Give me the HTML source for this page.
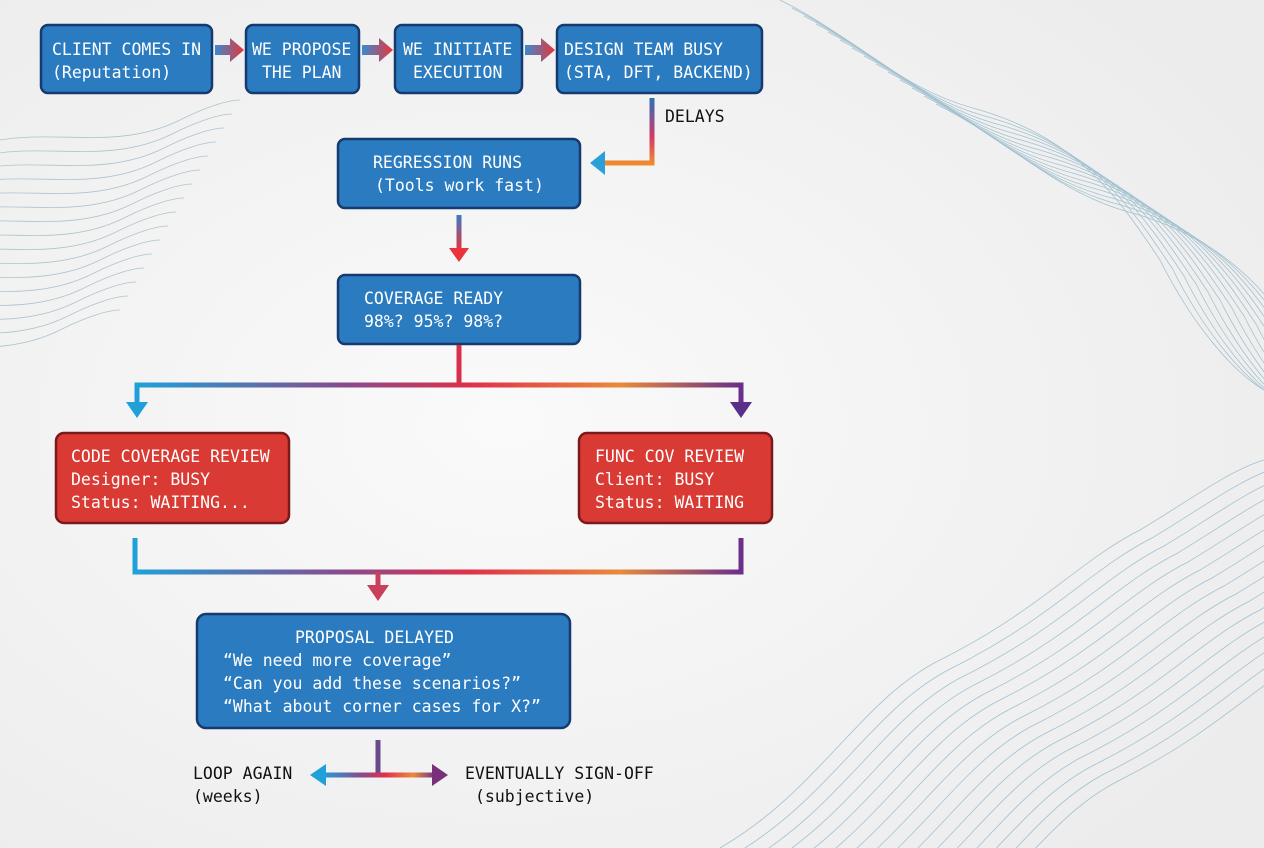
<!DOCTYPE html>
<html><head><meta charset="utf-8"><style>
html,body{margin:0;padding:0;background:#efefef;width:1264px;height:848px;overflow:hidden}
svg{display:block}
text{font-family:"DejaVu Sans Mono","Liberation Mono",monospace;font-size:16.5px;fill:#fff}
.k{fill:#111}
</style></head><body>
<svg width="1264" height="848" viewBox="0 0 1264 848" xmlns="http://www.w3.org/2000/svg">
<defs>
<radialGradient id="bg" cx="0.4" cy="0.5" r="0.7"><stop offset="0" stop-color="#fafafa"/><stop offset="1" stop-color="#ececec"/></radialGradient>
<linearGradient id="h" x1="0" x2="1"><stop offset="0" stop-color="#1fa0d8"/><stop offset="0.35" stop-color="#8a4a8c"/><stop offset="0.55" stop-color="#e0304a"/><stop offset="0.8" stop-color="#e98a3a"/><stop offset="1" stop-color="#6a2f8a"/></linearGradient>
<linearGradient id="v" x1="0" y1="0" x2="0" y2="1"><stop offset="0" stop-color="#2a70b8"/><stop offset="0.6" stop-color="#d23a6a"/><stop offset="1" stop-color="#f08a30"/></linearGradient>
<linearGradient id="ar" x1="0" x2="1"><stop offset="0" stop-color="#3a8ad0"/><stop offset="1" stop-color="#e8343a"/></linearGradient>
<linearGradient id="dn" x1="0" y1="0" x2="0" y2="1"><stop offset="0" stop-color="#3a7ac8"/><stop offset="1" stop-color="#e8343a"/></linearGradient>
<path id="w1" d="M780,0 C860,40 900,90 980,110 C1080,140 1120,200 1160,260 C1190,320 1230,370 1264,390" fill="none" stroke="#8fb6c8" stroke-width="0.8"/>
<path id="w2" d="M720,848 C820,790 860,700 940,660 C1040,610 1080,560 1140,530 C1190,500 1230,470 1264,460" fill="none" stroke="#8fb6c8" stroke-width="0.8"/>
<path id="w3" d="M0,140 C60,130 120,150 180,120 C210,105 230,100 240,100" fill="none" stroke="#9ab8c6" stroke-width="0.8"/>
</defs>
<rect width="1264" height="848" fill="url(#bg)"/>
<g opacity="0.8">
<use href="#w1"/><use href="#w1" transform="translate(12,8)"/><use href="#w1" transform="translate(24,16)"/><use href="#w1" transform="translate(36,24)"/><use href="#w1" transform="translate(48,32)"/><use href="#w1" transform="translate(60,40)"/><use href="#w1" transform="translate(72,48)"/><use href="#w1" transform="translate(84,56)"/><use href="#w1" transform="translate(96,64)"/><use href="#w1" transform="translate(108,72)"/><use href="#w1" transform="translate(120,80)"/><use href="#w1" transform="translate(132,88)"/><use href="#w1" transform="translate(144,96)"/><use href="#w1" transform="translate(156,104)"/>
<use href="#w2"/><use href="#w2" transform="translate(12,8)"/><use href="#w2" transform="translate(24,16)"/><use href="#w2" transform="translate(36,24)"/><use href="#w2" transform="translate(48,32)"/><use href="#w2" transform="translate(60,40)"/><use href="#w2" transform="translate(72,48)"/><use href="#w2" transform="translate(84,56)"/><use href="#w2" transform="translate(96,64)"/><use href="#w2" transform="translate(108,72)"/><use href="#w2" transform="translate(120,80)"/><use href="#w2" transform="translate(132,88)"/><use href="#w2" transform="translate(144,96)"/><use href="#w2" transform="translate(156,104)"/><use href="#w2" transform="translate(168,112)"/><use href="#w2" transform="translate(180,120)"/>
<use href="#w3"/><use href="#w3" transform="translate(-8,14)"/><use href="#w3" transform="translate(-16,28)"/><use href="#w3" transform="translate(-24,42)"/><use href="#w3" transform="translate(-32,56)"/><use href="#w3" transform="translate(-40,70)"/><use href="#w3" transform="translate(-48,84)"/><use href="#w3" transform="translate(-56,98)"/><use href="#w3" transform="translate(-64,112)"/><use href="#w3" transform="translate(-72,126)"/><use href="#w3" transform="translate(-80,140)"/><use href="#w3" transform="translate(-88,154)"/><use href="#w3" transform="translate(-96,168)"/><use href="#w3" transform="translate(-104,182)"/><use href="#w3" transform="translate(-112,196)"/><use href="#w3" transform="translate(-120,210)"/>
</g>

<g stroke="#163a6e" stroke-width="2.5" fill="#2a7bc0">
<rect x="41" y="25" width="171" height="68" rx="7"/>
<rect x="246" y="25" width="113" height="68" rx="7"/>
<rect x="395" y="25" width="127" height="68" rx="7"/>
<rect x="557" y="25" width="205" height="68" rx="7"/>
<rect x="338" y="139" width="242" height="69" rx="7"/>
<rect x="338" y="275" width="242" height="69" rx="7"/>
<rect x="197" y="614" width="373" height="114" rx="9"/>
</g>
<g stroke="#7a1a1a" stroke-width="2.5" fill="#d93a34">
<rect x="56" y="433" width="233" height="90" rx="8"/>
<rect x="579" y="433" width="193" height="90" rx="8"/>
</g>

<g fill="url(#ar)">
<path d="M215,45 h15 v-7 l14,12 l-14,12 v-7 h-15z"/>
<path d="M362,45 h17 v-7 l14,12 l-14,12 v-7 h-17z"/>
<path d="M525,45 h16 v-7 l14,12 l-14,12 v-7 h-16z"/>
</g>
<path d="M652,98 V163 H600" fill="none" stroke="url(#v)" stroke-width="5"/>
<path d="M590,163 l15,-12 v24z" fill="#2aa0d8"/>
<text x="665" y="122" class="k">DELAYS</text>
<rect x="456.5" y="215" width="5" height="35" fill="url(#dn)"/>
<path d="M449,248 h20 l-10,14z" fill="#e8343a"/>
<rect x="456.5" y="345" width="5" height="40" fill="#d8304a"/>
<path d="M137,405 V385 H741 V405" fill="none" stroke="url(#h)" stroke-width="5"/>
<path d="M126,402 h22 l-11,16z" fill="#1fa0d8"/>
<path d="M730,402 h22 l-11,16z" fill="#5a2f8a"/>
<path d="M135,538 V572 H741 V538" fill="none" stroke="url(#h)" stroke-width="5"/>
<rect x="375.5" y="572" width="5" height="16" fill="#c8405a"/>
<path d="M367,585 h22 l-11,16z" fill="#c8405a"/>
<rect x="375.5" y="740" width="5" height="35" fill="#6a4a8a"/>
<rect x="322" y="772.5" width="114" height="5" fill="url(#h)"/>
<path d="M310,775 l16,-11 v22z" fill="#1fa0d8"/>
<path d="M448,775 l-16,-11 v22z" fill="#7a2f7a"/>

<text x="52" y="55">CLIENT COMES IN</text><text x="52" y="78">(Reputation)</text>
<text x="252" y="55">WE PROPOSE</text><text x="262" y="78">THE PLAN</text>
<text x="403" y="55">WE INITIATE</text><text x="413" y="78">EXECUTION</text>
<text x="564" y="55">DESIGN TEAM BUSY</text><text x="564" y="78">(STA, DFT, BACKEND)</text>
<text x="373" y="168">REGRESSION RUNS</text><text x="375" y="191">(Tools work fast)</text>
<text x="364" y="304">COVERAGE READY</text><text x="364" y="327">98%? 95%? 98%?</text>
<text x="71" y="462">CODE COVERAGE REVIEW</text><text x="71" y="485">Designer: BUSY</text><text x="71" y="508">Status: WAITING...</text>
<text x="595" y="462">FUNC COV REVIEW</text><text x="595" y="485">Client: BUSY</text><text x="595" y="508">Status: WAITING</text>
<text x="295" y="643">PROPOSAL DELAYED</text>
<text x="223" y="666">“We need more coverage”</text>
<text x="223" y="689">“Can you add these scenarios?”</text>
<text x="223" y="712">“What about corner cases for X?”</text>
<text x="193" y="779" class="k">LOOP AGAIN</text><text x="193" y="802" class="k">(weeks)</text>
<text x="465" y="779" class="k">EVENTUALLY SIGN-OFF</text><text x="475" y="802" class="k">(subjective)</text>
</svg>
</body></html>
